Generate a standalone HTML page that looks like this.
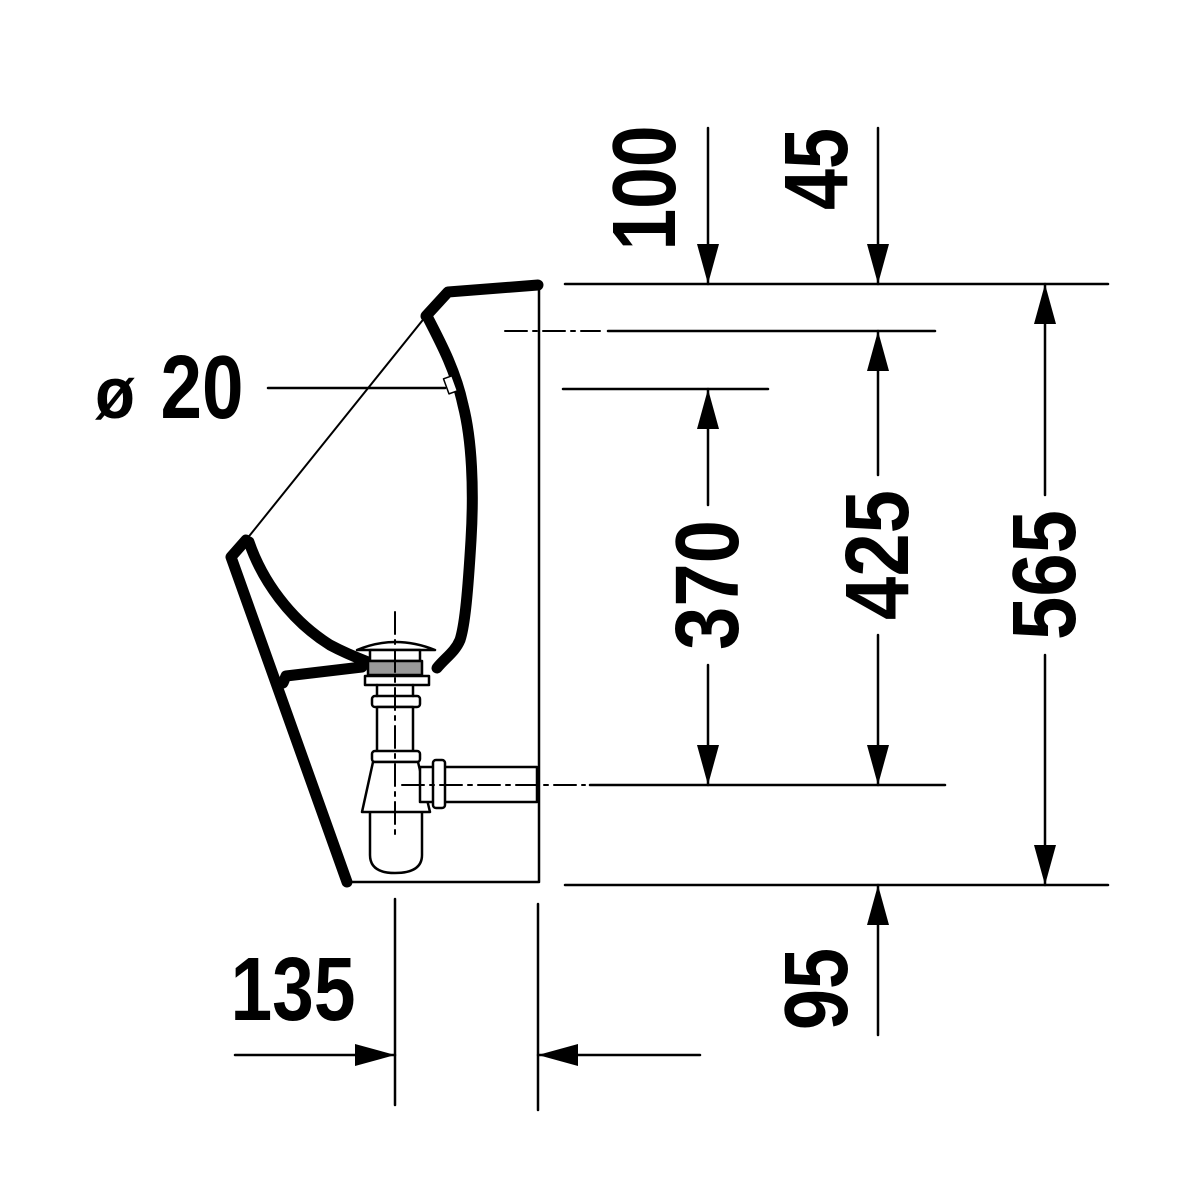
<!DOCTYPE html>
<html><head><meta charset="utf-8"><style>html,body{margin:0;padding:0;background:#fff}svg{display:block}</style></head>
<body>
<svg width="1200" height="1200" viewBox="0 0 1200 1200" xmlns="http://www.w3.org/2000/svg">
<defs>
<marker id="a" viewBox="0 0 40 22" refX="40" refY="11" markerWidth="40" markerHeight="22" markerUnits="userSpaceOnUse" orient="auto"><path d="M0,0 L40,11 L0,22 Z" fill="#000"/></marker>
</defs>
<g fill="none" stroke="#000" stroke-linecap="round" stroke-linejoin="round">
<!-- body -->
<path d="M538,285 L448,292 L426,316" stroke-width="11"/>
<line x1="426" y1="316" x2="246" y2="540" stroke-width="2"/>
<path d="M246,540 L231,557 L347,882" stroke-width="11"/>
<line x1="347" y1="882" x2="538" y2="882" stroke-width="2.5"/>
<line x1="539" y1="284" x2="539" y2="882" stroke-width="2.5"/>
<path d="M428,318 C442,345 456,372 463,405 C472,440 474,490 471,540 C468,590 465,625 460,640 C455,652 445,658 437,668" stroke-width="11"/>
<path d="M249,542 C262,580 290,620 330,645 C345,653 355,657 368,662" stroke-width="11"/>
<path d="M283,683 L286,676 L362,667" stroke-width="11"/>
<rect x="446" y="377" width="9" height="16" fill="#fff" stroke="#000" stroke-width="1.5" transform="rotate(-20 450 385)"/>
<!-- trap -->
<g stroke-width="2.5" fill="#fff">
<path d="M357,650 Q395,634 435,650 Z"/>
<rect x="370" y="650" width="50" height="11"/>
<rect x="368" y="661" width="54" height="14" fill="#999"/>
<rect x="365" y="676" width="64" height="9"/>
<rect x="372" y="696" width="48" height="11" rx="3"/>
<line x1="377" y1="685" x2="377" y2="696"/><line x1="413" y1="685" x2="413" y2="696"/>
<rect x="377" y="707" width="36" height="45"/>
<rect x="372" y="751" width="48" height="11" rx="3"/>
<path d="M370,812 L370,855 Q370,873 395,873 Q422,873 422,855 L422,812"/>
<path d="M373,762 L418,762 L430,812 L362,812 Z"/>
<rect x="420" y="767" width="117" height="35"/>
<rect x="433" y="760" width="12" height="48" rx="3"/>
</g>
<g stroke-width="2" stroke-dasharray="22,6,4,6">
<line x1="395" y1="612" x2="395" y2="840"/>
<line x1="402" y1="785" x2="585" y2="785"/>
<line x1="505" y1="331" x2="600" y2="331"/>
</g>
<!-- dimension lines -->
<g stroke-width="2.5">
<line x1="565" y1="284" x2="1108" y2="284"/>
<line x1="608" y1="331" x2="935" y2="331"/>
<line x1="563" y1="389" x2="768" y2="389"/>
<line x1="590" y1="785" x2="945" y2="785"/>
<line x1="565" y1="885" x2="1108" y2="885"/>
<line x1="268" y1="388" x2="445" y2="388"/>
<line x1="395" y1="899" x2="395" y2="1105"/>
<line x1="538" y1="904" x2="538" y2="1110"/>
<line x1="708" y1="128" x2="708" y2="284" marker-end="url(#a)"/>
<line x1="878" y1="128" x2="878" y2="284" marker-end="url(#a)"/>
<line x1="878" y1="1035" x2="878" y2="885" marker-end="url(#a)"/>
<line x1="235" y1="1055" x2="395" y2="1055" marker-end="url(#a)"/>
<line x1="700" y1="1055" x2="538" y2="1055" marker-end="url(#a)"/>
<line x1="708" y1="505" x2="708" y2="389" marker-end="url(#a)"/>
<line x1="708" y1="665" x2="708" y2="785" marker-end="url(#a)"/>
<line x1="878" y1="475" x2="878" y2="331" marker-end="url(#a)"/>
<line x1="878" y1="635" x2="878" y2="785" marker-end="url(#a)"/>
<line x1="1045" y1="495" x2="1045" y2="284" marker-end="url(#a)"/>
<line x1="1045" y1="655" x2="1045" y2="885" marker-end="url(#a)"/>
</g>
</g>
<g font-family="Liberation Sans, sans-serif" font-weight="bold" font-size="90" fill="#000" text-anchor="middle">
<text x="293" y="1020" textLength="125" lengthAdjust="spacingAndGlyphs">135</text>
<text x="202" y="418" textLength="83" lengthAdjust="spacingAndGlyphs">20</text>
<text x="115" y="418" font-size="72" textLength="40" lengthAdjust="spacingAndGlyphs">ø</text>
<text transform="translate(675,188) rotate(-90)" textLength="125" lengthAdjust="spacingAndGlyphs">100</text>
<text transform="translate(847,169) rotate(-90)" textLength="82" lengthAdjust="spacingAndGlyphs">45</text>
<text transform="translate(738,585) rotate(-90)" textLength="130" lengthAdjust="spacingAndGlyphs">370</text>
<text transform="translate(908,555) rotate(-90)" textLength="130" lengthAdjust="spacingAndGlyphs">425</text>
<text transform="translate(1075,575) rotate(-90)" textLength="130" lengthAdjust="spacingAndGlyphs">565</text>
<text transform="translate(847,989) rotate(-90)" textLength="82" lengthAdjust="spacingAndGlyphs">95</text>
</g>
</svg>
</body></html>
